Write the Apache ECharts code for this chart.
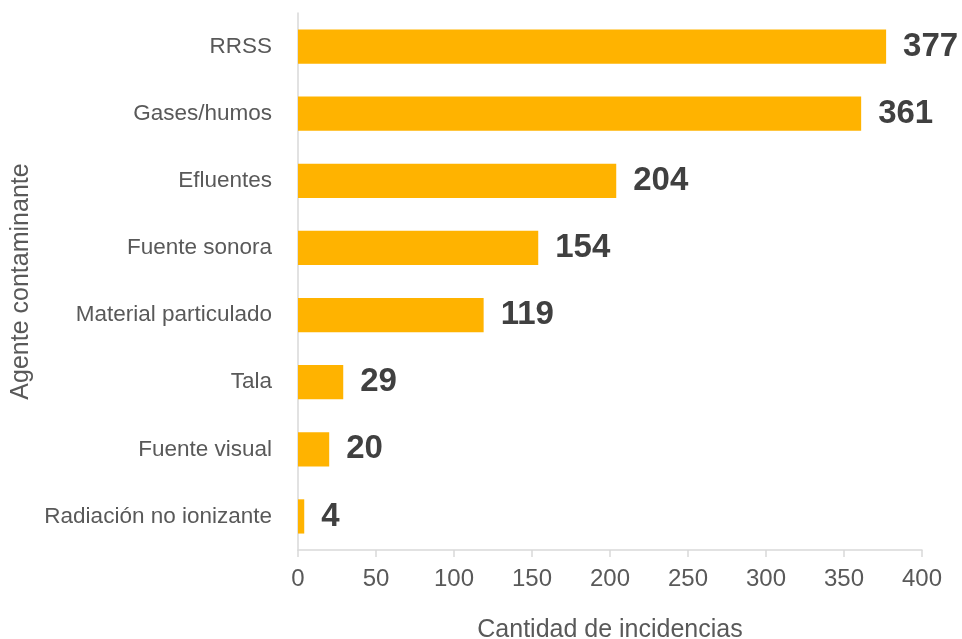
<!DOCTYPE html>
<html>
<head>
<meta charset="utf-8">
<script src="https://cdn.jsdelivr.net/npm/echarts@6/dist/echarts.min.js"></script>
<style>
  html, body { margin: 0; padding: 0; background: #fff; }
  #chart { width: 962px; height: 639px; }
</style>
</head>
<body>
<div id="chart"></div>
<script>
// datos
const categorias = ['RRSS', 'Gases/humos', 'Efluentes', 'Fuente sonora', 'Material particulado', 'Tala', 'Fuente visual', 'Radiación no ionizante'];
const incidencias = [377, 361, 204, 154, 119, 29, 20, 4];
const ejeX = { min: 0, max: 400, interval: 50 };

let chart = echarts.init(document.getElementById('chart'));
chart.setOption({
  animation: false,
  textStyle: { fontFamily: 'Liberation Sans, Arial, sans-serif' },
  grid: { left: 298, right: 40, top: 13, bottom: 89, containLabel: false, outerBoundsMode: 'none' },
  xAxis: {
    type: 'value',
    min: ejeX.min,
    max: ejeX.max,
    interval: ejeX.interval,
    name: 'Cantidad de incidencias',
    nameLocation: 'middle',
    nameGap: 68,
    nameTextStyle: { color: '#595959', fontSize: 25 },
    axisLine: { show: true, lineStyle: { color: '#d9d9d9', width: 1.5 } },
    axisTick: { show: true, length: 7, lineStyle: { color: '#d9d9d9', width: 1.5 } },
    axisLabel: { color: '#595959', fontSize: 24, margin: 17 },
    splitLine: { show: false }
  },
  yAxis: {
    type: 'category',
    inverse: true,
    data: categorias,
    name: 'Agente contaminante',
    nameLocation: 'middle',
    nameGap: 255,
    nameRotate: 90,
    nameTextStyle: { color: '#595959', fontSize: 25 },
    axisLine: { show: true, lineStyle: { color: '#d9d9d9', width: 1.5 } },
    axisTick: { show: false },
    axisLabel: { color: '#595959', fontSize: 22.5, margin: 26 }
  },
  series: [{
    type: 'bar',
    data: incidencias,
    barWidth: '51%',
    itemStyle: { color: '#FFB300' },
    label: {
      show: true,
      position: 'right',
      distance: 17,
      color: '#404040',
      fontSize: 33,
      fontWeight: 'bold'
    }
  }]
});
window.addEventListener('resize', () => { chart.resize(); });
</script>
</body>
</html>
